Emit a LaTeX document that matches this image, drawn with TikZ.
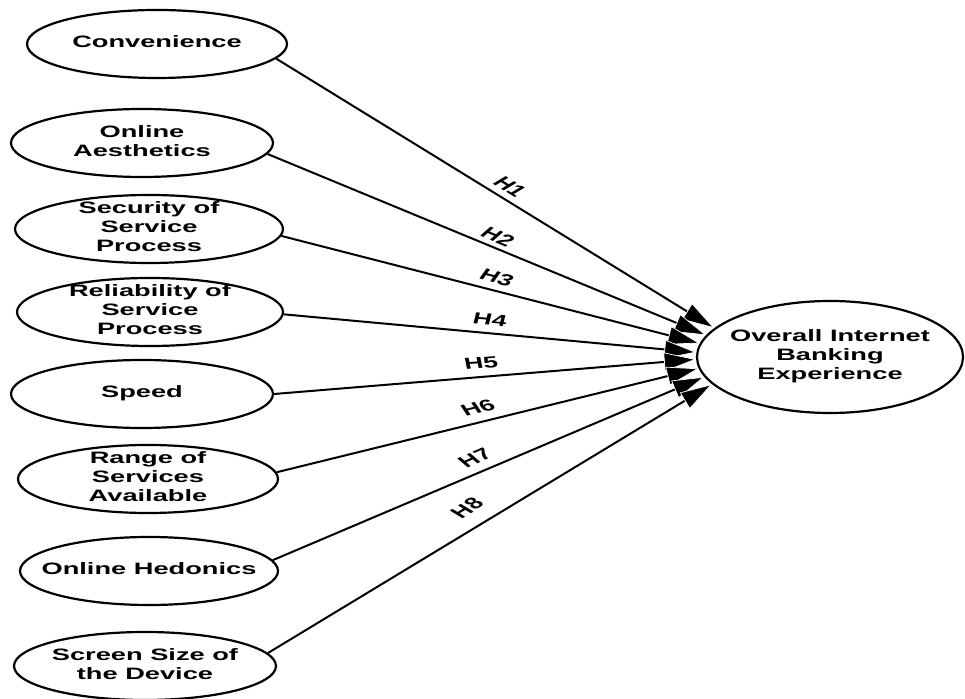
\documentclass[tikz,border=0pt]{standalone}
\usepackage{fontspec}
\setmainfont{Liberation Sans}
\usepackage{graphicx}
\usetikzlibrary{shapes.geometric,arrows.meta}

% construct names: bold, stacked lines, widened horizontally
\newcommand{\ctext}[1]{\scalebox{1.65}[1]{\begin{tabular}{@{}c@{}}#1\end{tabular}}}
% hypothesis tags: turned, then widened (gives the slanted look)
\newcommand{\htext}[2]{\scalebox{1.65}[1]{\rotatebox{#1}{#2}}}

\tikzset{
  construct/.style={ellipse, draw=black, line width=2.2pt, minimum height=68pt,
    inner sep=0pt, fill=white},
  ctxt/.style={font=\fontsize{16.5}{19}\selectfont\bfseries, inner sep=0pt},
  link/.style={line width=2pt,
    -{Triangle[length=32pt,width=19pt,fill=black,color=white,line width=0.7pt]}},
  hyp/.style={font=\fontsize{16}{18}\selectfont\bfseries, inner sep=0pt}
}

\begin{document}
\begin{tikzpicture}[x=1pt,y=1pt]
\useasboundingbox (0,0) rectangle (965,698);
\fill[white] (0,0) rectangle (965,698);

% antecedent constructs
\node[construct, minimum width=260pt, label={[ctxt]center:{\ctext{Convenience}}}] (c1) at (157,654) {};
\node[construct, minimum width=262pt, label={[ctxt]center:{\ctext{Online\\Aesthetics}}}] (c2) at (142,555) {};
\node[construct, minimum width=268pt, label={[ctxt]center:{\ctext{Security of\\Service\\Process}}}] (c3) at (149,469) {};
\node[construct, minimum width=266pt, label={[ctxt]center:{\ctext{Reliability of\\Service\\Process}}}] (c4) at (150,386) {};
\node[construct, minimum width=262pt, label={[ctxt]center:{\ctext{Speed}}}] (c5) at (142,304) {};
\node[construct, minimum width=260pt, label={[ctxt]center:{\ctext{Range of\\Services\\Available}}}] (c6) at (148,219) {};
\node[construct, minimum width=258pt, label={[ctxt]center:{\ctext{Online Hedonics}}}] (c7) at (149,127) {};
\node[construct, minimum width=262pt, label={[ctxt]center:{\ctext{Screen Size of\\the Device}}}] (c8) at (145,32) {};

% outcome construct
\node[construct, minimum width=266pt, minimum height=112pt,
      label={[ctxt]center:{\ctext{Overall Internet\\Banking\\Experience}}}] (out) at (830,341) {};

% hypothesised paths
\draw[link] (c1.-7.9) -- (out.166.5);
\draw[link] (c2.-5.6) -- (out.170.4);
\draw[link] (c3.-3.5) -- (out.174.2);
\draw[link] (c4.-1.3) -- (out.178.1);
\draw[link] (c5.0.4)  -- (out.181.9);
\draw[link] (c6.3.1)  -- (out.185.8);
\draw[link] (c7.5.8)  -- (out.189.6);
\draw[link] (c8.6.8)  -- (out.193.5);

% hypothesis tags
\node[hyp] (h1) at (510,511) {\htext{-45.5}{H1}};
\node[hyp] (h2) at (498,461) {\htext{-34.6}{H2}};
\node[hyp] (h3) at (497,420) {\htext{-23.5}{H3}};
\node[hyp] (h4) at (490,378) {\htext{-8.5}{H4}};
\node[hyp] (h5) at (481,335) {\htext{6.9}{H5}};
\node[hyp] (h6) at (478,290) {\htext{21.9}{H6}};
\node[hyp] (h7) at (475,240) {\htext{35.1}{H7}};
\node[hyp] (h8) at (467,190) {\htext{44.7}{H8}};
\end{tikzpicture}
\end{document}
